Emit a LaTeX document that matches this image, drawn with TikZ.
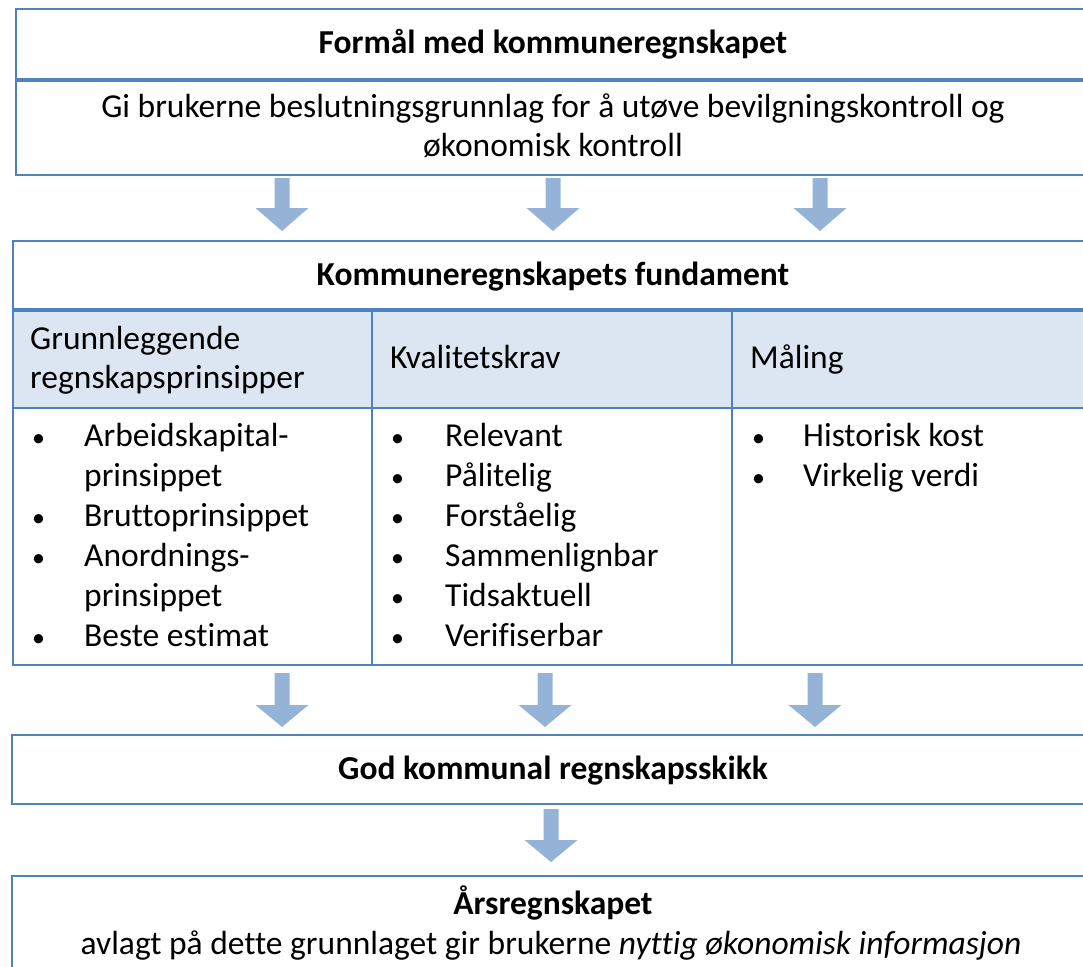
\documentclass[tikz,border=0pt]{standalone}
\usepackage{fontspec}
\setmainfont{Carlito}[Ligatures={NoCommon}]
\definecolor{bordc}{RGB}{79,129,189}
\definecolor{hdrc}{RGB}{220,230,242}
\definecolor{arrc}{RGB}{149,179,215}
\newcommand\blkarrow[4]{\fill[arrc] (#1-7.5,#2) -- (#1+7.5,#2) -- (#1+7.5,#3) -- (#1+26.5,#3) -- (#1,#4) -- (#1-26.5,#3) -- (#1-7.5,#3) -- cycle;}
\begin{document}
\begin{tikzpicture}[x=1pt,y=-1pt,
 box/.style={draw=bordc,line width=2.2pt,fill=white,inner sep=0pt,anchor=north west},
 hdr/.style={box,fill=hdrc},
 txt/.style={inner sep=0pt,font=\fontsize{33.5}{40}\selectfont},
 btxt/.style={inner sep=0pt,font=\fontsize{33.5}{40}\selectfont\bfseries},
 ln/.style={txt,anchor=base west},
 bul/.style={inner sep=0pt,anchor=base west,font=\fontsize{26}{40}\selectfont},
 cln/.style={txt,anchor=base},
 bcln/.style={btxt,anchor=base}]
\useasboundingbox (0,0) rectangle (1083,966);
\begin{scope}
\clip (0,0) rectangle (1083,966);
% top box
\node[box,minimum width=1077pt,minimum height=70pt] (titlebox) at (15,8) {};
\node[box,minimum width=1077pt,minimum height=96pt] (goalbox) at (15,78) {};
\draw[bordc,line width=3.6pt] (titlebox.south west) -- (titlebox.south east);
\node[bcln] (formal) at (553,54) {Formål med kommuneregnskapet};
\node[cln] (goal1) at (553,117) {Gi brukerne beslutningsgrunnlag for å utøve bevilgningskontroll og};
\node[cln] (goal2) at (553,156) {økonomisk kontroll};
% arrows top
\blkarrow{282}{178}{208}{231}
\blkarrow{553}{178}{208}{231}
\blkarrow{820}{178}{208}{231}
% fundament
\node[box,minimum width=1080pt,minimum height=68pt] (fundbox) at (12,240) {};
\node[hdr,minimum width=359pt,minimum height=99pt] (h1) at (12,308) {};
\node[hdr,minimum width=360pt,minimum height=99pt] (h2) at (371,308) {};
\node[hdr,minimum width=361pt,minimum height=99pt] (h3) at (731,308) {};
\node[box,minimum width=359pt,minimum height=257pt] (b1) at (12,407) {};
\node[box,minimum width=360pt,minimum height=257pt] (b2) at (371,407) {};
\node[box,minimum width=361pt,minimum height=257pt] (b3) at (731,407) {};
\draw[bordc,line width=3.6pt] (fundbox.south west) -- (fundbox.south east);
\node[bcln] (fund) at (553,285) {Kommuneregnskapets fundament};
\node[ln] (h1a) at (30,349) {Grunnleggende};
\node[ln] (h1b) at (30,388) {regnskapsprinsipper};
\node[ln] (h2a) at (390,368) {Kvalitetskrav};
\node[ln] (h3a) at (750,368) {Måling};
% column 1
\foreach \yy/\nm in {446/p1,526/p2,566/p3,646/p4}
  \node[bul] (b1\nm) at (32,\yy) {•};
\node[ln] (c1a) at (84,446) {Arbeidskapital-};
\node[ln] (c1b) at (84,486) {prinsippet};
\node[ln] (c1c) at (84,526) {Bruttoprinsippet};
\node[ln] (c1d) at (84,566) {Anordnings-};
\node[ln] (c1e) at (84,606) {prinsippet};
\node[ln] (c1f) at (84,646) {Beste estimat};
% column 2
\foreach \t [count=\i] in {Relevant,Pålitelig,Forståelig,Sammenlignbar,Tidsaktuell,Verifiserbar}{
  \node[bul] (b2p\i) at (391,406+40*\i) {•};
  \node[ln] (c2l\i) at (445,406+40*\i) {\t};
}
% column 3
\foreach \t [count=\i] in {Historisk kost,Virkelig verdi}{
  \node[bul] (b3p\i) at (752,406+40*\i) {•};
  \node[ln] (c3l\i) at (803,406+40*\i) {\t};
}
% arrows middle
\blkarrow{282}{673}{705}{727}
\blkarrow{545}{673}{705}{727}
\blkarrow{815}{673}{705}{727}
% god kommunal
\node[box,minimum width=1081pt,minimum height=69pt] (godbox) at (11,734) {};
\node[bcln] (god) at (553,779) {God kommunal regnskapsskikk};
\blkarrow{551}{809}{840}{862}
% final
\node[box,minimum width=1081pt,minimum height=120pt] (arsbox) at (11,875) {};
\node[bcln] (ars) at (553,914) {Årsregnskapet};
\node[cln] (ars2) at (551,954) {avlagt på dette grunnlaget gir brukerne \textit{nyttig økonomisk informasjon}};
\end{scope}
\end{tikzpicture}
\end{document}
